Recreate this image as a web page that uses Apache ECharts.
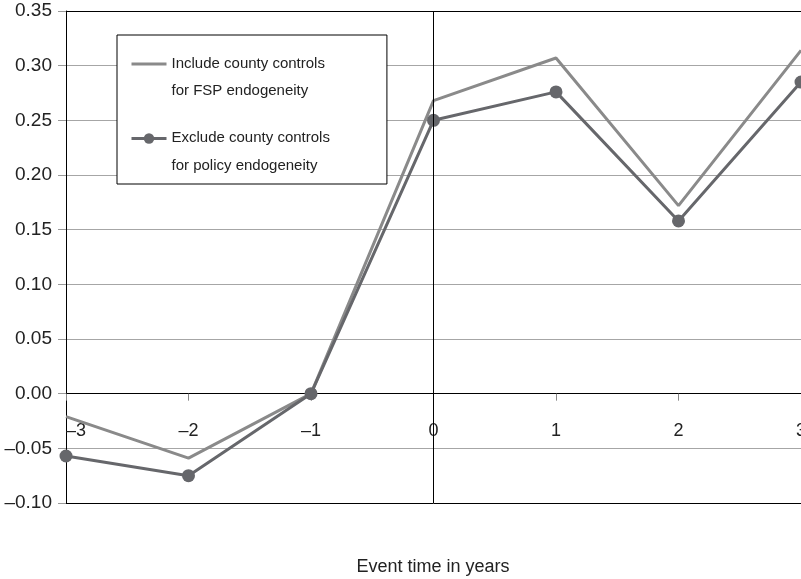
<!DOCTYPE html>
<html>
<head>
<meta charset="utf-8">
<script src="https://cdn.jsdelivr.net/npm/echarts@6/dist/echarts.min.js"></script>
<style>
  html, body { margin: 0; padding: 0; background: #fff; }
  #chart { width: 801px; height: 579px; }
</style>
</head>
<body>
<div id="chart"></div>
<script>
// Event-study estimates by year relative to the event
const eventYears = [-3, -2, -1, 0, 1, 2, 3];
const includeControls = [-0.021, -0.059, 0, 0.268, 0.307, 0.172, 0.314];
const excludeControls = [-0.057, -0.075, 0, 0.250, 0.276, 0.158, 0.285];

const includeName = 'Include county controls for FSP endogeneity';
const excludeName = 'Exclude county controls for policy endogeneity';
const legendLines = {};
legendLines[includeName] = ['Include county controls', 'for FSP endogeneity'];
legendLines[excludeName] = ['Exclude county controls', 'for policy endogeneity'];

const DASH = '\u2013';
const FONT = '"Liberation Sans", Arial, Helvetica, sans-serif';

const Y_MIN = -0.1, Y_MAX = 0.35, Y_STEP = 0.05;
const GRID = { left: 66, right: 0, top: 11, bottom: 76 };
const CHART_H = 579;

// the x axis sits on the y = 0 line, with ticks and labels hanging below it
const plotH = CHART_H - GRID.top - GRID.bottom;
const zeroOffset = -plotH * (0 - Y_MIN) / (Y_MAX - Y_MIN);

// horizontal rules: black frame lines at the bottom and top, grey in between
const nLines = Math.round((Y_MAX - Y_MIN) / Y_STEP) + 1;
const ruleColors = [];
for (let i = 0; i < nLines; i++) {
  ruleColors.push(i === 0 || i === nLines - 1 ? '#000000' : '#a6a6a6');
}

function pairs(xs, ys) {
  return xs.map((x, i) => [x, ys[i]]);
}

const chart = echarts.init(document.getElementById('chart'), null, { renderer: 'canvas' });

chart.setOption({
  animation: false,
  backgroundColor: '#ffffff',
  textStyle: { fontFamily: FONT },
  grid: {
    left: GRID.left, right: GRID.right, top: GRID.top, bottom: GRID.bottom,
    outerBoundsMode: 'none',
    containLabel: false,
    show: false
  },
  legend: {
    orient: 'vertical',
    left: 117, top: 35,
    padding: [21, 57, 11, 13],
    itemGap: 32,
    itemWidth: 35, itemHeight: 13,
    borderColor: '#000', borderWidth: 1,
    backgroundColor: '#fff',
    selectedMode: false,
    data: [
      { name: includeName, itemStyle: { opacity: 0 }, lineStyle: { width: 3 } },
      { name: excludeName, lineStyle: { width: 3 } }
    ],
    formatter: function (name) {
      const l = legendLines[name];
      return '{a|' + l[0] + '}\n{b|' + l[1] + '}';
    },
    textStyle: {
      fontFamily: FONT,
      fontSize: 15,
      color: '#222',
      rich: {
        a: { fontSize: 15, lineHeight: 54, color: '#222', fontFamily: FONT },
        b: { fontSize: 15, lineHeight: 1, color: '#222', fontFamily: FONT }
      }
    }
  },
  xAxis: {
    type: 'value',
    position: 'bottom',
    offset: zeroOffset,
    min: -3, max: 3, interval: 1,
    axisLine: { show: true, onZero: false, lineStyle: { color: '#000', width: 1 } },
    axisTick: { show: true, length: 7, lineStyle: { color: '#888' } },
    splitLine: { show: false },
    axisLabel: {
      margin: 28,
      fontSize: 18,
      color: '#222',
      fontFamily: FONT,
      alignMinLabel: 'left',
      formatter: v => (v < 0 ? DASH + Math.abs(v) : String(v))
    }
  },
  yAxis: {
    type: 'value',
    min: Y_MIN, max: Y_MAX, interval: Y_STEP,
    axisLine: { show: true, onZero: false, lineStyle: { color: '#000', width: 1 } },
    axisTick: { show: true, length: 8, lineStyle: { color: '#999' } },
    splitLine: { show: true, lineStyle: { color: ruleColors, width: 1 } },
    axisLabel: {
      margin: 14,
      fontSize: 19,
      color: '#222',
      fontFamily: FONT,
      formatter: v => {
        const r = Math.round(v * 100) / 100;
        return (r < 0 ? DASH : '') + Math.abs(r).toFixed(2);
      }
    }
  },
  graphic: [{
    type: 'text',
    style: {
      text: 'Event time in years',
      x: 433, y: 567,
      fontSize: 18,
      fontFamily: FONT,
      fill: '#222',
      align: 'center',
      verticalAlign: 'middle'
    }
  }],
  series: [
    {
      name: includeName,
      type: 'line',
      data: pairs(eventYears, includeControls),
      symbol: 'none',
      lineStyle: { color: '#8a8a8a', width: 3 },
      itemStyle: { color: '#8a8a8a' },
      emphasis: { disabled: true },
      z: 2
    },
    {
      name: excludeName,
      type: 'line',
      data: pairs(eventYears, excludeControls),
      symbol: 'circle',
      symbolSize: 13,
      lineStyle: { color: '#66676b', width: 3 },
      itemStyle: { color: '#66676b' },
      emphasis: { disabled: true },
      markLine: {
        silent: true,
        symbol: 'none',
        label: { show: false },
        lineStyle: { color: '#000', width: 1, type: 'solid' },
        data: [{ xAxis: 0 }]
      },
      z: 3
    }
  ]
});
</script>
</body>
</html>
